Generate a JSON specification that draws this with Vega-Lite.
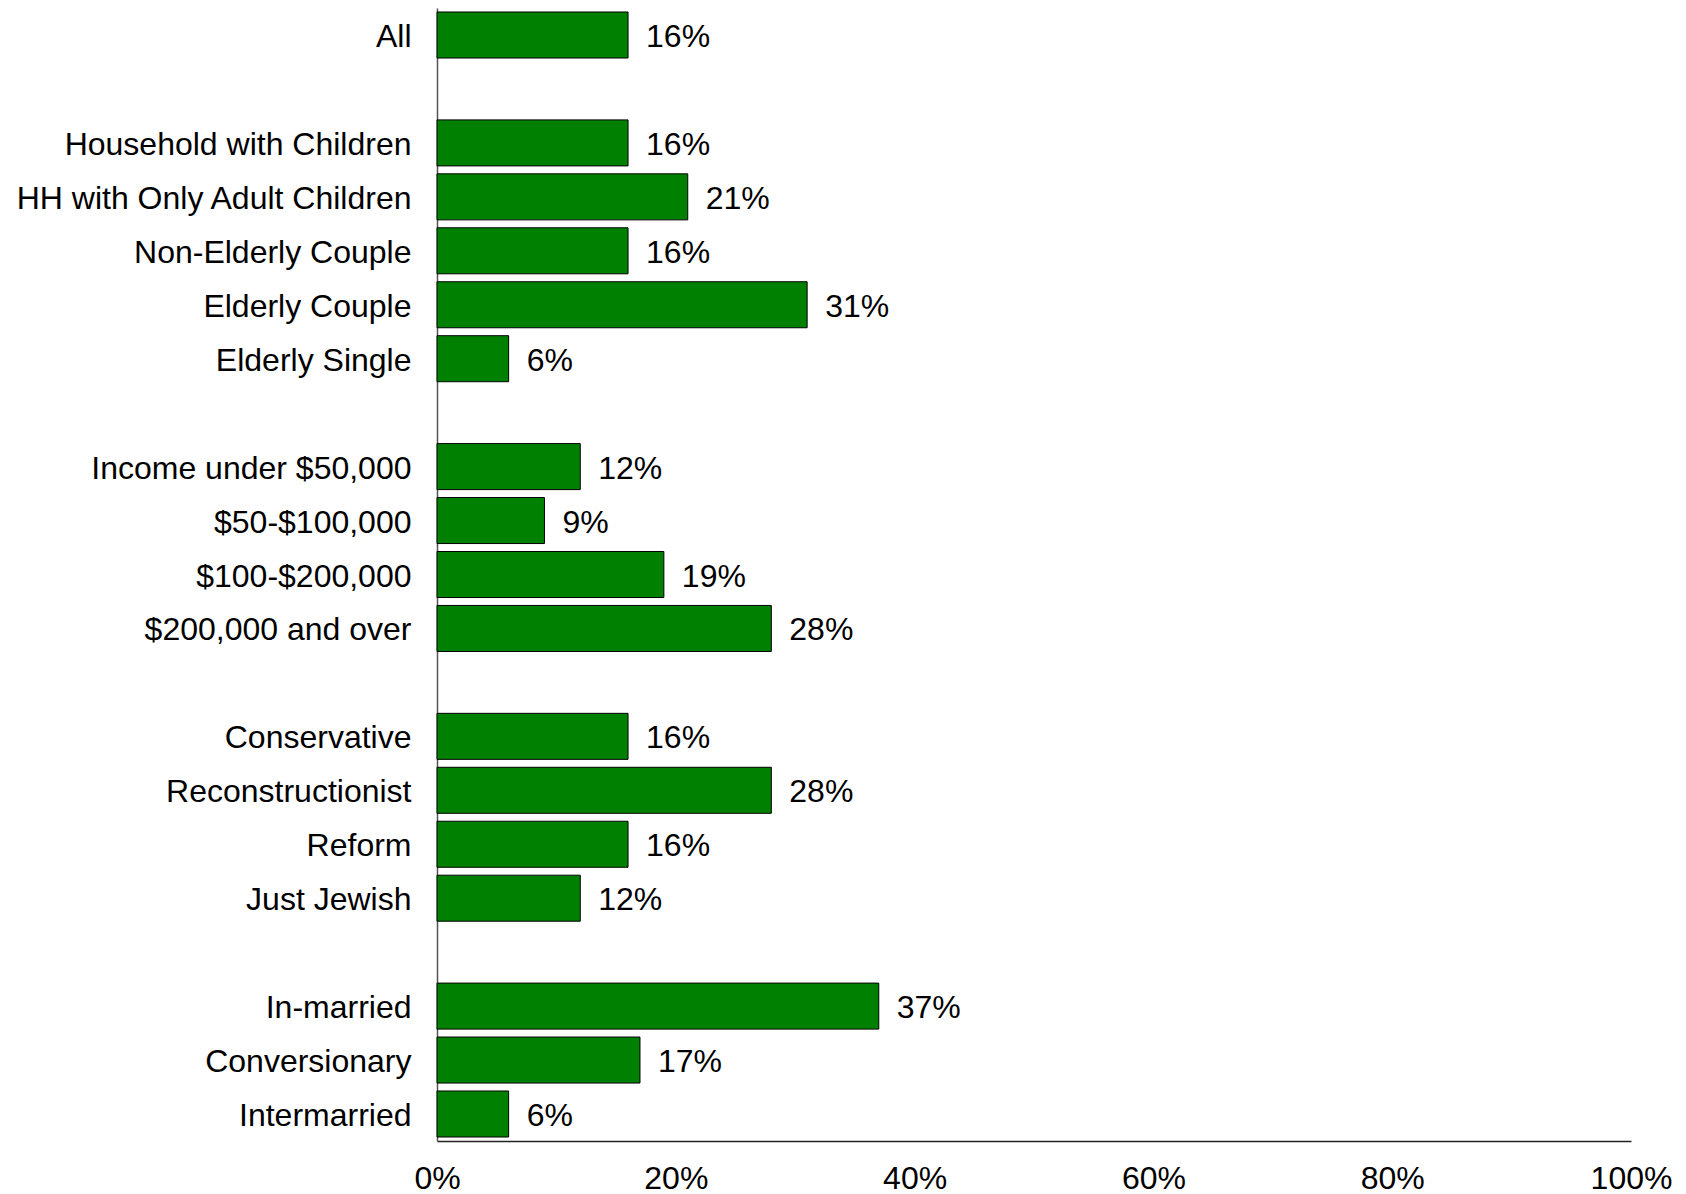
{
  "$schema": "https://vega.github.io/schema/vega-lite/v6.json",
  "autosize": {"type": "none"},
  "padding": {"left": 437, "top": 8, "right": 55, "bottom": 53},
  "width": 1194,
  "height": 1133,
  "background": "white",
  "config": {"view": {"stroke": null}, "font": "Liberation Sans"},
  "data": {"values": [
    {"group": "All", "share": 0.16},
    {"group": "Household with Children", "share": 0.16},
    {"group": "HH with Only Adult Children", "share": 0.21},
    {"group": "Non-Elderly Couple", "share": 0.16},
    {"group": "Elderly Couple", "share": 0.31},
    {"group": "Elderly Single", "share": 0.06},
    {"group": "Income under $50,000", "share": 0.12},
    {"group": "$50-$100,000", "share": 0.09},
    {"group": "$100-$200,000", "share": 0.19},
    {"group": "$200,000 and over", "share": 0.28},
    {"group": "Conservative", "share": 0.16},
    {"group": "Reconstructionist", "share": 0.28},
    {"group": "Reform", "share": 0.16},
    {"group": "Just Jewish", "share": 0.12},
    {"group": "In-married", "share": 0.37},
    {"group": "Conversionary", "share": 0.17},
    {"group": "Intermarried", "share": 0.06}
  ]},
  "encoding": {
    "y": {
      "field": "group", "type": "nominal",
      "scale": {
        "domain": ["All", " ", "Household with Children", "HH with Only Adult Children", "Non-Elderly Couple", "Elderly Couple", "Elderly Single", "  ", "Income under $50,000", "$50-$100,000", "$100-$200,000", "$200,000 and over", "   ", "Conservative", "Reconstructionist", "Reform", "Just Jewish", "    ", "In-married", "Conversionary", "Intermarried"],
        "paddingInner": 0.147, "paddingOuter": 0.074
      },
      "axis": {
        "title": null, "ticks": false, "grid": false,
        "labelFontSize": 32, "labelColor": "#000000", "labelPadding": 26, "labelLimit": 0, "labelOffset": 2,
        "domainColor": "#555555", "domainWidth": 1.5
      }
    },
    "x": {
      "field": "share", "type": "quantitative",
      "scale": {"domain": [0, 1], "nice": false},
      "axis": {
        "title": null, "values": [0, 0.2, 0.4, 0.6, 0.8, 1], "ticks": false, "grid": false,
        "format": ".0%", "labelFontSize": 32, "labelColor": "#000000",
        "labelPadding": 22, "domainColor": "#222222", "domainWidth": 1.5, "labelFlush": false
      }
    }
  },
  "layer": [
    {"mark": {"type": "bar", "fill": "#008000", "stroke": "#000000", "strokeWidth": 1}},
    {"mark": {"type": "text", "align": "left", "baseline": "middle", "dx": 18, "dy": 2, "fontSize": 32, "color": "#000000"},
     "encoding": {"text": {"field": "share", "type": "quantitative", "format": ".0%"}}}
  ]
}
